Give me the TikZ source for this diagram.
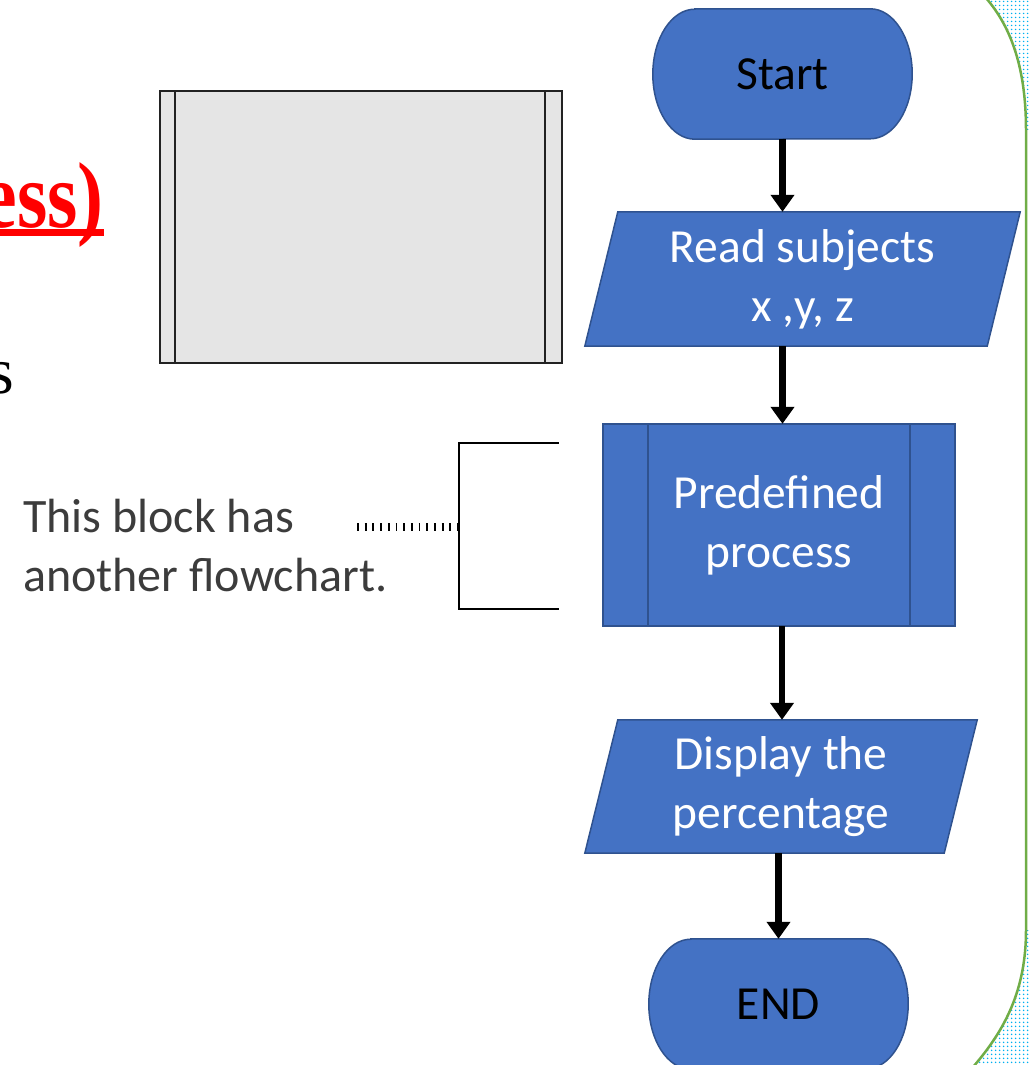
\documentclass[tikz,border=0pt]{standalone}
\usepackage{fontspec}
\usepackage{graphicx}
\setmainfont{Carlito}
\newfontfamily\serifface{Liberation Serif}
\usetikzlibrary{arrows.meta,patterns.meta,backgrounds}

\definecolor{fcblue}{HTML}{4472C4}
\definecolor{fcedge}{HTML}{2F528F}
\definecolor{boxgray}{HTML}{E5E5E5}
\definecolor{boxedge}{HTML}{222222}
\definecolor{greenline}{HTML}{70AD47}
\definecolor{dotcyan}{HTML}{00B0F0}
\definecolor{notegray}{HTML}{3C3C3C}

\begin{document}
\begin{tikzpicture}[x=1pt,y=1pt,
  lbl/.style={inner sep=0pt, align=center, text=white,
    font=\fontsize{47.5}{59}\selectfont},
  blueshape/.style={fill=fcblue, draw=fcedge, line width=1.5pt},
  flowarrow/.style={line width=6.5pt, -{Triangle[length=17pt,width=23pt]}},
  notetext/.style={inner sep=0pt, align=left, text=notegray,
    font=\fontsize{48}{59}\selectfont},
  bracketline/.style={draw=black, line cap=rect},
  dotline/.style={draw=black, line width=8pt, dash pattern=on 1.8pt off 5.9pt},
  margindots/.style={pattern={Dots[radius=0.95pt,distance=4pt]}, pattern color=dotcyan},
]
\useasboundingbox (0,0) rectangle (1028,-1065);

% ---- page border with dotted margin ----
\fill[margindots]
  (986,2) .. controls (1012,-28) and (1026,-70) .. (1026,-130)
  -- (1030,-130) -- (1030,2) -- cycle;
\fill[margindots]
  (1026,-930) .. controls (1026,-990) and (1005,-1030) .. (973,-1067)
  -- (1030,-1067) -- (1030,-930) -- cycle;
\draw[greenline, line width=2.5pt]
  (986,2) .. controls (1012,-28) and (1026,-70) .. (1026,-130)
  -- (1026,-930) .. controls (1026,-990) and (1005,-1030) .. (973,-1067);

% ---- left-hand text ----
\node[text=red, anchor=base east, inner sep=0pt,
      font=\serifface\bfseries\fontsize{78}{78}\selectfont]
  (title) at (104,-227) {\scalebox{1}[1.2]{ess)}};
\fill[red] (-5,-229) rectangle (104,-236);
\node[anchor=base west, inner sep=0pt,
      font=\serifface\fontsize{66}{66}\selectfont]
  (tail) at (-12,-393) {s};

% ---- symbol sample ----
\node[draw=boxedge, fill=boxgray, line width=2pt,
      minimum width=402pt, minimum height=272pt] (sample) at (361,-227) {};
\draw[boxedge, line width=2pt]
  ([xshift=16pt]sample.north west) -- ([xshift=16pt]sample.south west)
  ([xshift=-18pt]sample.north east) -- ([xshift=-18pt]sample.south east);

% ---- annotation ----
\node[notetext, anchor=west] (note) at (23,-546)
  {This block has\\another flowchart.};
\coordinate (dotA) at (357,-527);
\coordinate (brk) at (459,-527);
\coordinate (brkT) at (459,-443);
\coordinate (brkB) at (459,-609);
\draw[dotline] (dotA) -- (brk);
\draw[bracketline, line width=1.6pt] (brkT) -- (brkB);
\draw[bracketline, line width=2.8pt] (brkT) -- ++(99,0);
\draw[bracketline, line width=2.8pt] (brkB) -- ++(99,0);

% ---- flowchart nodes ----
\node[lbl, text=black, minimum width=259pt, minimum height=130pt]
  (start) at (782.5,-74) {Start};
\node[lbl, minimum width=435pt, minimum height=134pt]
  (read) at (802.5,-279) {Read subjects\\x ,y, z};
\node[lbl, minimum width=352pt, minimum height=202pt]
  (pre) at (779,-525) {Predefined\\process};
\node[lbl, minimum width=392pt, minimum height=133pt]
  (disp) at (781,-786.5) {Display the\\percentage};
\node[lbl, text=black, minimum width=259pt, minimum height=130pt]
  (end) at (778.5,-1004) {END};

\begin{scope}[on background layer]
  % terminators
  \foreach \t in {start,end}{
    \path[blueshape]
      ([xshift=42pt]\t.north west) -- ([xshift=-42pt]\t.north east)
      arc[start angle=90,end angle=-90,x radius=42pt,y radius=65pt]
      -- ([xshift=42pt]\t.south west)
      arc[start angle=270,end angle=90,x radius=42pt,y radius=65pt]
      -- cycle;
  }
  % input / output
  \foreach \t in {read,disp}{
    \path[blueshape]
      ([xshift=33pt]\t.north west) -- (\t.north east)
      -- ([xshift=-33pt]\t.south east) -- (\t.south west) -- cycle;
  }
  % predefined process
  \path[blueshape] (pre.north west) rectangle (pre.south east);
  \draw[fcedge, line width=1.5pt]
    ([xshift=45pt]pre.north west) -- ([xshift=45pt]pre.south west)
    ([xshift=-45pt]pre.north east) -- ([xshift=-45pt]pre.south east);
\end{scope}

% ---- flow ----
\draw[flowarrow] (start.south) -- (start.south |- read.north);
\draw[flowarrow] (start.south |- read.south) -- (start.south |- pre.north);
\draw[flowarrow] ([xshift=3pt]pre.south) -- ([xshift=3pt]pre.south |- disp.north);
\draw[flowarrow] (end.north |- disp.south) -- (end.north);
\end{tikzpicture}
\end{document}
